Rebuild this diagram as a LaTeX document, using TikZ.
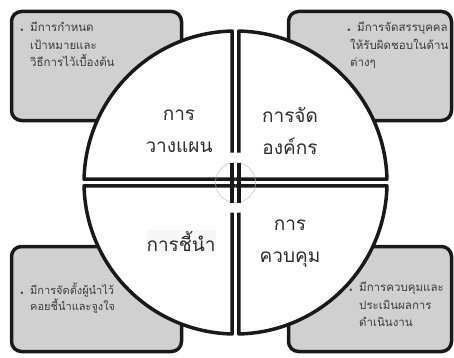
\documentclass[tikz,border=0pt]{standalone}
\usepackage{fontspec}
\newfontfamily\thaifont[Script=Thai]{Loma}
\usepackage{tikz}
\usetikzlibrary{calc}
\definecolor{boxgray}{RGB}{208,208,208}
\definecolor{inkgray}{RGB}{45,45,45}
\definecolor{notegray}{RGB}{60,60,60}
\newcommand\bul{\makebox[10pt][l]{\normalfont\tiny$\bullet$}}

\begin{document}
\begin{tikzpicture}[
    x=1pt, y=1pt,
    line join=round,
    cornerbox/.style={rounded corners=10pt, draw=black!90, line width=3.5pt,
                      fill=boxgray, inner sep=0pt},
    quad/.style={draw=black!90, line width=3.5pt},
    hub/.style={draw=black!25, line width=0.5pt},
    title/.style={font=\thaifont\fontsize{19}{32}\selectfont, text=inkgray,
                  align=center, inner sep=1pt},
    note/.style={font=\thaifont\fontsize{11.5}{17.5}\selectfont, text=notegray,
                 align=left, anchor=north west, inner sep=0pt},
]
\useasboundingbox (0,0) rectangle (454,357);

% --- the four corner boxes ---
\node[cornerbox, minimum width=170, minimum height=109] (tlbox) at (96.5,291) {};
\node[cornerbox, minimum width=163, minimum height=109] (trbox) at (370,291) {};
\node[cornerbox, minimum width=170, minimum height=105] (blbox) at (96.5,58) {};
\node[cornerbox, minimum width=163, minimum height=105] (brbox) at (370,58) {};

% --- box texts ---
\node[note] (tltext) at (20,335)
  {\bul มีการกำหนด\\ \hspace*{10pt}เป้าหมายและ\\ \hspace*{10pt}วิธีการไว้เบื้องต้น};
\node[note] (trtext) at (347,335)
  {\bul มีการจัดสรรบุคคล\\ \hspace*{3pt}ให้รับผิดชอบในด้าน\\ \hspace*{3pt}ต่างๆ};
\node[note, font=\thaifont\fontsize{11}{15.5}\selectfont] (bltext) at (20,74)
  {\bul มีการจัดตั้งผู้นำไว้\\ \hspace*{10pt}คอยชี้นำและจูงใจ};
\node[note] (brtext) at (349,75)
  {\bul มีการควบคุมและ\\ \hspace*{10pt}ประเมินผลการ\\ \hspace*{10pt}ดำเนินงาน};

% --- the circle, cut in four ---
\coordinate (c) at (235.5,174.5);
\fill[white] (232.2,177.8) -- ($(c)+(91.25:151.5pt)$)
  arc[start angle=91.25, end angle=178.75, radius=151.5pt] -- cycle;
\fill[white] (238.8,177.8) -- ($(c)+(88.75:151.5pt)$)
  arc[start angle=88.75, end angle=1.25, radius=151.5pt] -- cycle;
\fill[white] (232.2,171.2) -- ($(c)+(268.75:151.5pt)$)
  arc[start angle=268.75, end angle=181.25, radius=151.5pt] -- cycle;
\fill[white] (238.8,171.2) -- ($(c)+(271.25:151.5pt)$)
  arc[start angle=271.25, end angle=358.75, radius=151.5pt] -- cycle;

\draw[quad] (232.2,204.5) -- ($(c)+(91.25:151.5pt)$)
  arc[start angle=91.25, end angle=178.75, radius=151.5pt] -- (235.5,177.8);
\draw[quad] (238.8,204.5) -- ($(c)+(88.75:151.5pt)$)
  arc[start angle=88.75, end angle=1.25, radius=151.5pt] -- (235.5,177.8);
\draw[quad] (232.2,144.5) -- ($(c)+(268.75:151.5pt)$)
  arc[start angle=268.75, end angle=181.25, radius=151.5pt] -- (235.5,171.2);
\draw[quad] (238.8,144.5) -- ($(c)+(271.25:151.5pt)$)
  arc[start angle=271.25, end angle=358.75, radius=151.5pt] -- (235.5,171.2);

% --- hub in the middle ---
\draw[hub] (c) circle[radius=20pt];
\draw[quad, line join=miter] (232.2,194.5) -- (232.2,154.5);
\draw[quad, line join=miter] (238.8,194.5) -- (238.8,154.5);

% --- quadrant titles ---
\node[title] (plan) at (179,226) {การ\\วางแผน};
\node[title] (org) at (290,226) {การจัด\\องค์กร};
\node[title, fill=black!3] (lead) at (181,116) {การชี้นำ};
\node[title] (ctrl) at (290,113) {การ\\ควบคุม};
\end{tikzpicture}
\end{document}
